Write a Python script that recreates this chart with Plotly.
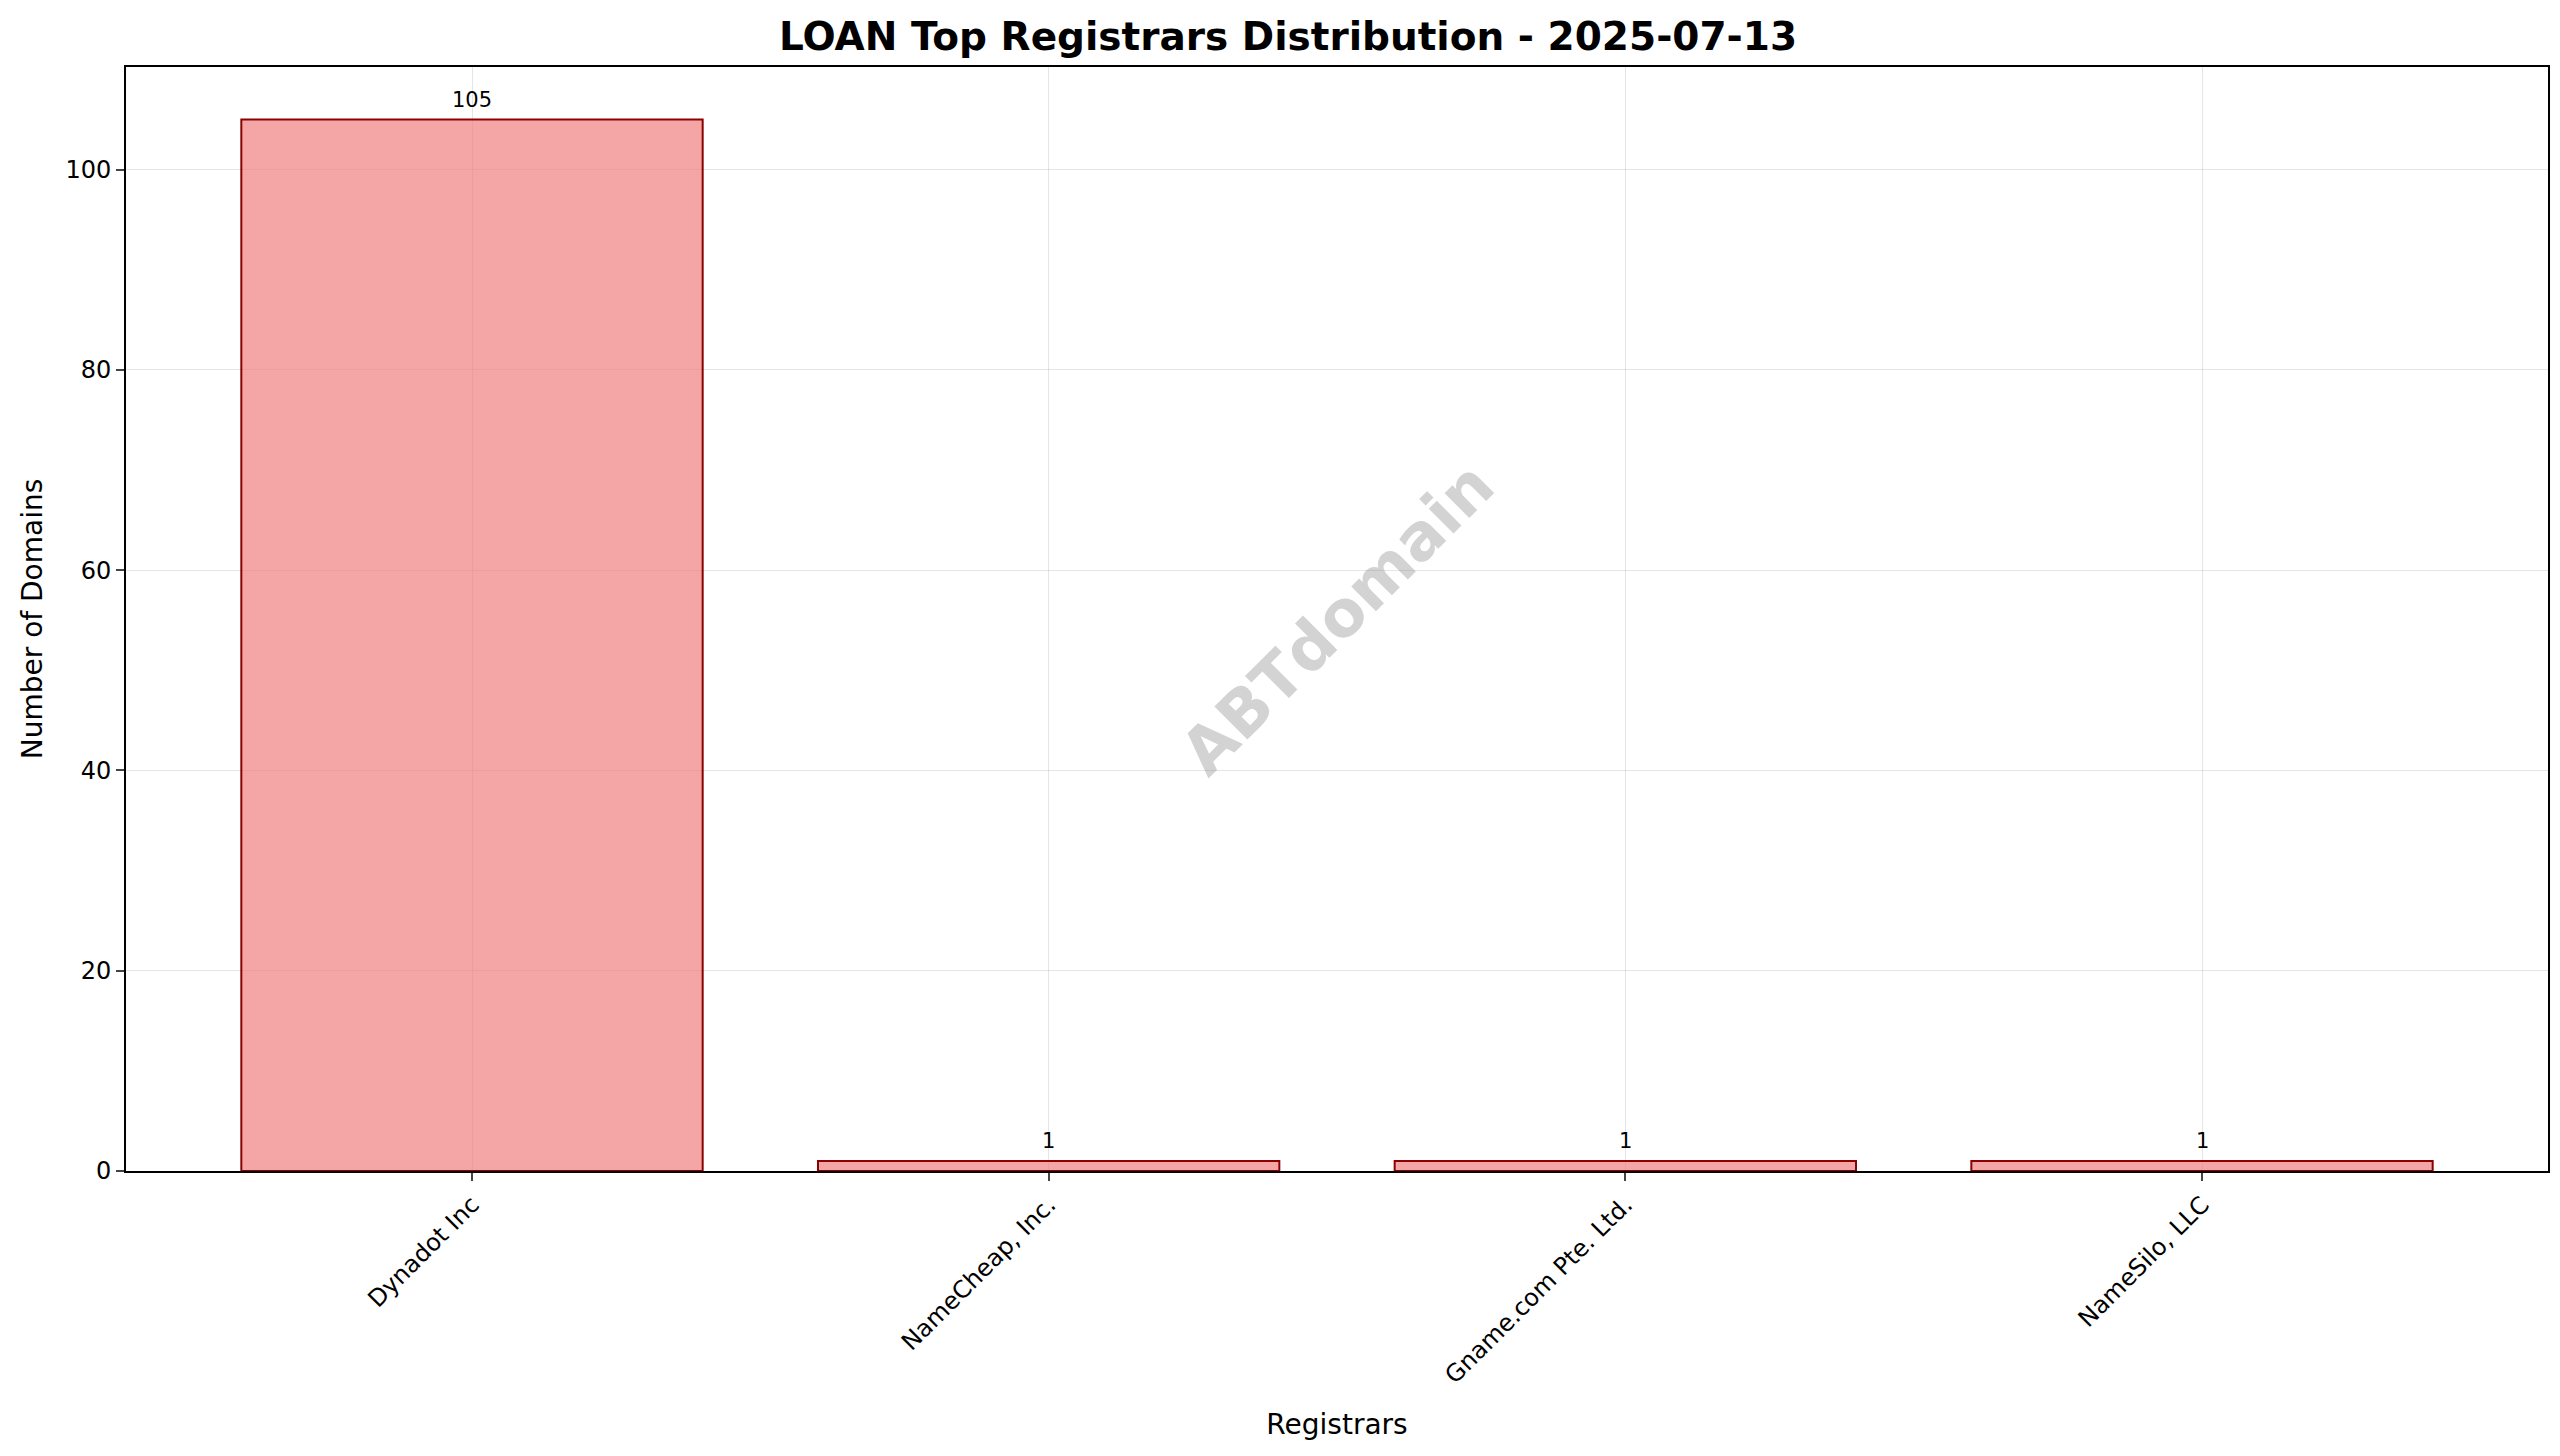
import plotly.graph_objects as go

registrars = ["Dynadot Inc", "NameCheap, Inc.", "Gname.com Pte. Ltd.", "NameSilo, LLC"]
counts = [105, 1, 1, 1]

fig = go.Figure()
fig.add_trace(go.Bar(
    x=registrars, y=counts, width=0.8,
    marker=dict(color="rgba(240,128,128,0.7)", line=dict(color="#8b0000", width=2)),
))
for r, c in zip(registrars, counts):
    fig.add_annotation(x=r, y=c, text=str(c), showarrow=False, yanchor="bottom", yshift=6,
                       font=dict(size=21, color="black"))
fig.update_layout(
    width=2560, height=1456,
    paper_bgcolor="white", plot_bgcolor="white",
    margin=dict(l=118, r=20, t=59, b=293),
    font=dict(family="DejaVu Sans", color="black"),
    title=dict(text="<b>LOAN Top Registrars Distribution - 2025-07-13</b>", x=0.5, xanchor="center",
               y=1 - 28/1456, yanchor="middle", font=dict(size=39)),
    showlegend=False,
    bargap=0.2,
)
fig.update_xaxes(
    title=dict(text="Registrars", font=dict(size=28), standoff=26),
    tickangle=-45, tickfont=dict(size=24), range=[-0.6, 3.6],
    showgrid=True, gridcolor="rgba(0,0,0,0.1)", gridwidth=1,
    showline=True, linecolor="black", linewidth=2, mirror=True,
    ticks="outside", ticklen=8, tickwidth=2,
)
fig.update_yaxes(
    title=dict(text="Number of Domains", font=dict(size=28)),
    tickfont=dict(size=24), range=[0, 110.25], dtick=20,
    showgrid=True, gridcolor="rgba(0,0,0,0.1)", gridwidth=1,
    showline=True, linecolor="black", linewidth=2, mirror=True,
    ticks="outside", ticklen=8, tickwidth=2, zeroline=False,
)
fig.add_annotation(
    text="<b>ABTdomain</b>", xref="paper", yref="paper", x=0.5, y=0.5,
    showarrow=False, textangle=-45, font=dict(size=64, color="rgba(128,128,128,0.35)"),
)
fig.write_html("out.html")
